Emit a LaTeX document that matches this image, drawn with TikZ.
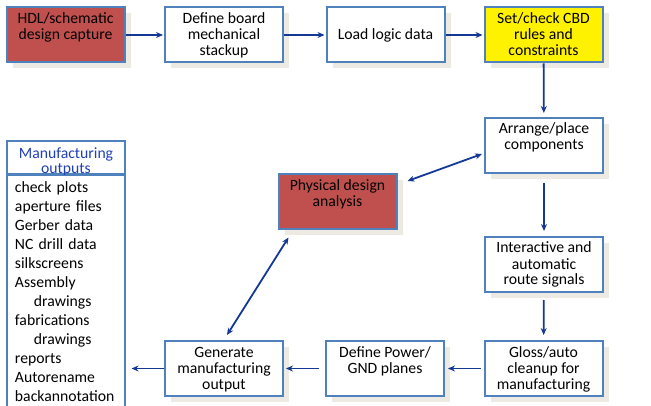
\documentclass[tikz,border=0pt]{standalone}
\usepackage{fontspec}
\setmainfont{Carlito}
\usetikzlibrary{arrows.meta,shadows}
\definecolor{boxblue}{RGB}{79,129,189}
\definecolor{arrowblue}{RGB}{20,56,150}
\definecolor{headblue}{RGB}{32,64,180}
\definecolor{brickred}{RGB}{192,80,77}
\definecolor{shadowgray}{RGB}{236,234,226}
\newcommand{\toptext}[1]{\parbox[c][54pt][t]{114pt}{\centering\rule{0pt}{15.5pt}#1}}
\tikzset{
  stage/.style={draw=boxblue, line width=2pt, fill=white, minimum width=118pt,
    minimum height=55pt, inner sep=0pt, align=center,
    drop shadow={shadow xshift=6pt, shadow yshift=-6pt, fill=shadowgray, opacity=1}},
  flow/.style={draw=arrowblue, line width=1.8pt, -{Stealth[length=7pt,width=6pt]}},
  twoway/.style={draw=arrowblue, line width=1.8pt,
    {Stealth[length=7pt,width=6pt]}-{Stealth[length=7pt,width=6pt]}},
  listbox/.style={draw=boxblue, line width=1.2pt, minimum width=118pt, inner sep=0pt}
}
\begin{document}
\begin{tikzpicture}[x=1pt, y=-1pt, font=\fontsize{15.7}{16}\selectfont]
\useasboundingbox (0,0) rectangle (651,406);

% top row
\node[stage, fill=brickred] (hdl) at (65.5,35) {\toptext{HDL/schematic\\design capture}};
\node[stage] (board) at (224,35) {\toptext{Define board\\mechanical\\stackup}};
\node[stage] (load) at (385.5,35) {Load logic data};
\node[stage, fill=yellow] (rules) at (543.5,35) {\toptext{Set/check CBD\\rules and\\constraints}};

% right column
\node[stage] (place) at (544,145.5) {\toptext{Arrange/place\\components}};
\node[stage, fill=brickred] (phys) at (337.5,202) {\toptext{Physical design\\analysis}};
\node[stage] (route) at (544,264.5) {\toptext{Interactive and\\automatic\\route signals}};

% bottom row
\node[stage] (gloss) at (543.5,368.5) {\toptext{Gloss/auto\\cleanup for\\manufacturing}};
\node[stage] (power) at (385,368.5) {\toptext{Define Power/\\GND planes}};
\node[stage] (gen) at (224,368.5) {\toptext{Generate\\manufacturing\\output}};

% outputs list
\node[listbox, minimum height=33pt, text=headblue, font=\fontsize{15.7}{15}\selectfont]
  (mfghead) at (66,157.5)
  {\parbox[c][33pt][t]{114pt}{\centering\rule{0pt}{17.5pt}Manufacturing\\outputs}};
\node[listbox, anchor=north west, align=left, text width=102pt,
  inner xsep=8pt, inner ysep=6.5pt, font=\fontsize{15.7}{19}\selectfont]
  (mfglist) at (mfghead.south west) {check plots\\aperture files\\Gerber data\\NC drill data\\silkscreens\\Assembly\\\hspace*{19pt}drawings\\fabrications\\\hspace*{19pt}drawings\\reports\\Autorename\\backannotation};

\draw[flow, shorten >=1pt] (hdl) -- (board);
\draw[flow, shorten >=1pt] (board) -- (load);
\draw[flow, shorten >=1pt] (load) -- (rules);
\draw[flow, shorten >=4pt] (rules) -- (place);
\draw[flow, shorten <=9pt, shorten >=5pt] (place) -- (route);
\draw[flow, shorten <=7pt, shorten >=5pt] (route) -- (gloss);
\draw[flow, shorten <=3pt, shorten >=3pt] (gloss) -- (power);
\draw[flow, shorten <=6pt, shorten >=2pt] (power) -- (gen);
\draw[flow, shorten >=6pt] (gen.west) -- (gen.west -| mfglist.east);
\draw[twoway] ([shift={(10,-21)}]phys.east) -- ([shift={(-2,8.5)}]place.west);
\draw[twoway] ([shift={(3,-5)}]gen.north) -- ([shift={(11,7)}]phys.south west);

\end{tikzpicture}
\end{document}
